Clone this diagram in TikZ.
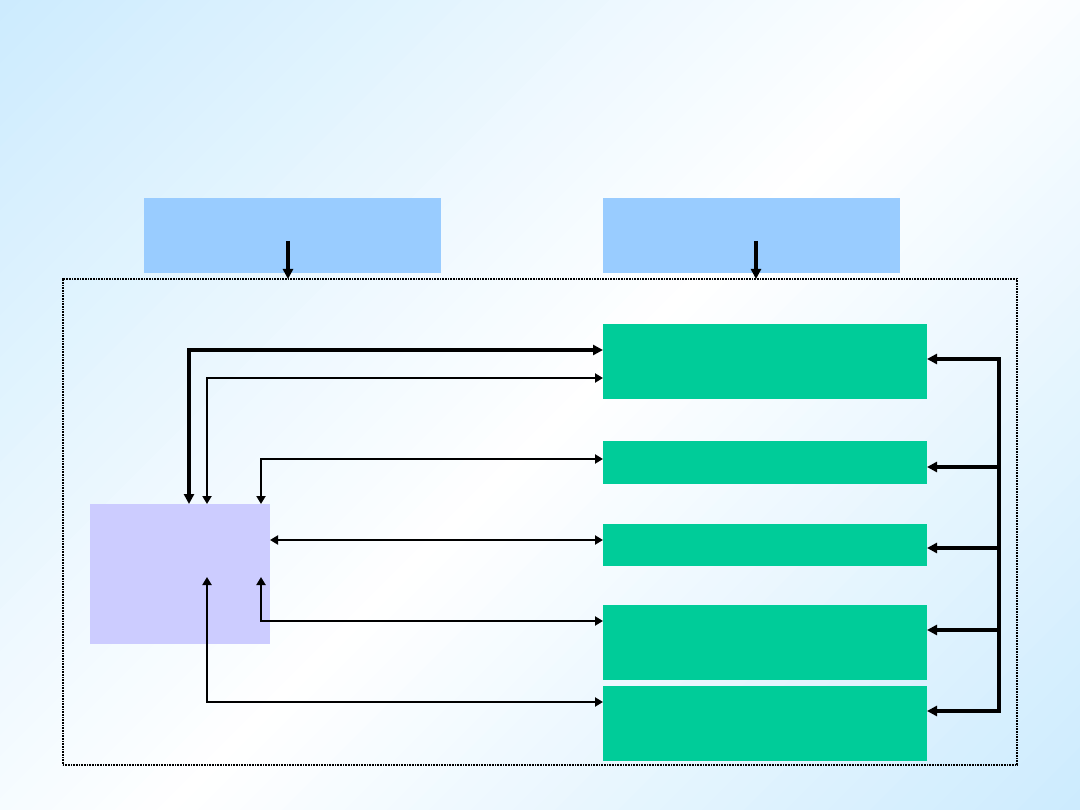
\documentclass[tikz,border=0pt]{standalone}
\usetikzlibrary{arrows.meta,calc}
\definecolor{bgblue}{RGB}{204,235,254}
\definecolor{topblue}{RGB}{153,204,255}
\definecolor{boxgreen}{RGB}{0,204,153}
\definecolor{boxpurple}{RGB}{204,204,255}
\begin{document}
\begin{tikzpicture}[x=1pt,y=-1pt,
  box/.style={draw=none, inner sep=0pt, outer sep=0pt, anchor=north west},
  thinarr/.style={line width=2pt, {Triangle[length=8pt,width=9pt]}-{Triangle[length=8pt,width=9pt]}},
  thickarr/.style={line width=4pt, {Triangle[length=10pt,width=10pt]}-{Triangle[length=10pt,width=10pt]}},
  downarr/.style={line width=4pt, -{Triangle[length=10pt,width=10pt]}},
  busarr/.style={line width=4pt, -{Triangle[length=10pt,width=10pt]}}]
\useasboundingbox (0,0) rectangle (1080,810);
% background gradient (diagonal, blue - white - blue)
\begin{scope}
\clip (0,0) rectangle (1080,810);
\foreach \i in {0,...,89} {
  \pgfmathsetmacro{\sa}{\i*21}
  \pgfmathsetmacro{\sb}{\i*21+22.5}
  \pgfmathsetmacro{\tm}{(\i+0.5)/90}
  \pgfmathtruncatemacro{\p}{\tm<0.52 ? (1-\tm/0.52)*100 : (\tm-0.52)/0.48*100}
  \fill[bgblue!\p!white] (\sa,0) -- (\sb,0) -- (\sb-810,810) -- (\sa-810,810) -- cycle;
}
\end{scope}
% frame
\node[box, draw=black, line width=1.6pt, dash pattern=on 1pt off 0.6pt, minimum width=954pt, minimum height=486pt] (F) at (63,279) {};
% top boxes
\node[box, fill=topblue, minimum width=297pt, minimum height=75pt] (T1) at (144,198) {};
\node[box, fill=topblue, minimum width=297pt, minimum height=75pt] (T2) at (603,198) {};
% green boxes
\node[box, fill=boxgreen, minimum width=324pt, minimum height=75pt] (G1) at (603,324) {};
\node[box, fill=boxgreen, minimum width=324pt, minimum height=43pt] (G2) at (603,441) {};
\node[box, fill=boxgreen, minimum width=324pt, minimum height=42pt] (G3) at (603,524) {};
\node[box, fill=boxgreen, minimum width=324pt, minimum height=75pt] (G4) at (603,605) {};
\node[box, fill=boxgreen, minimum width=324pt, minimum height=75pt] (G5) at (603,686) {};
% purple box
\node[box, fill=boxpurple, minimum width=180pt, minimum height=140pt] (P) at (90,504) {};
% top arrows
\draw[downarr] ([xshift=-4.5pt,yshift=-5.5pt]T1.center) -- ([xshift=-4.5pt]T1.center |- F.north);
\draw[downarr] ([xshift=4.5pt,yshift=-5.5pt]T2.center) -- ([xshift=4.5pt]T2.center |- F.north);
% left connectors
\draw[thickarr] ([yshift=-26pt]G1.north west) -| ([xshift=99pt]P.north west);
\draw[thinarr] ([yshift=-54pt]G1.north west) -| ([xshift=117pt]P.north west);
\draw[thinarr] ([yshift=-18pt]G2.north west) -| ([xshift=171pt]P.north west);
\draw[thinarr] ([yshift=-36pt]P.north east) -- ([yshift=-16pt]G3.north west);
\draw[thinarr] ([xshift=171pt,yshift=-73pt]P.north west) |- ([yshift=-16pt]G4.north west);
\draw[thinarr] ([xshift=117pt,yshift=-73pt]P.north west) |- ([yshift=-16pt]G5.north west);
% right bus
\coordinate (e1) at ([yshift=2.5pt]G1.east);
\coordinate (e2) at ([yshift=-4.5pt]G2.east);
\coordinate (e3) at ([yshift=-3pt]G3.east);
\coordinate (e4) at ([yshift=12.5pt]G4.east);
\coordinate (e5) at ([yshift=12.5pt]G5.east);
\coordinate (bt) at (999,359);
\coordinate (bb) at (bt |- e5);
\draw[line width=4pt, line cap=rect] (bt) -- (bb);
\draw[busarr] (bt) -- (e1);
\draw[busarr] (bt |- e2) -- (e2);
\draw[busarr] (bt |- e3) -- (e3);
\draw[busarr] (bt |- e4) -- (e4);
\draw[busarr] (bb) -- (e5);
\end{tikzpicture}
\end{document}
